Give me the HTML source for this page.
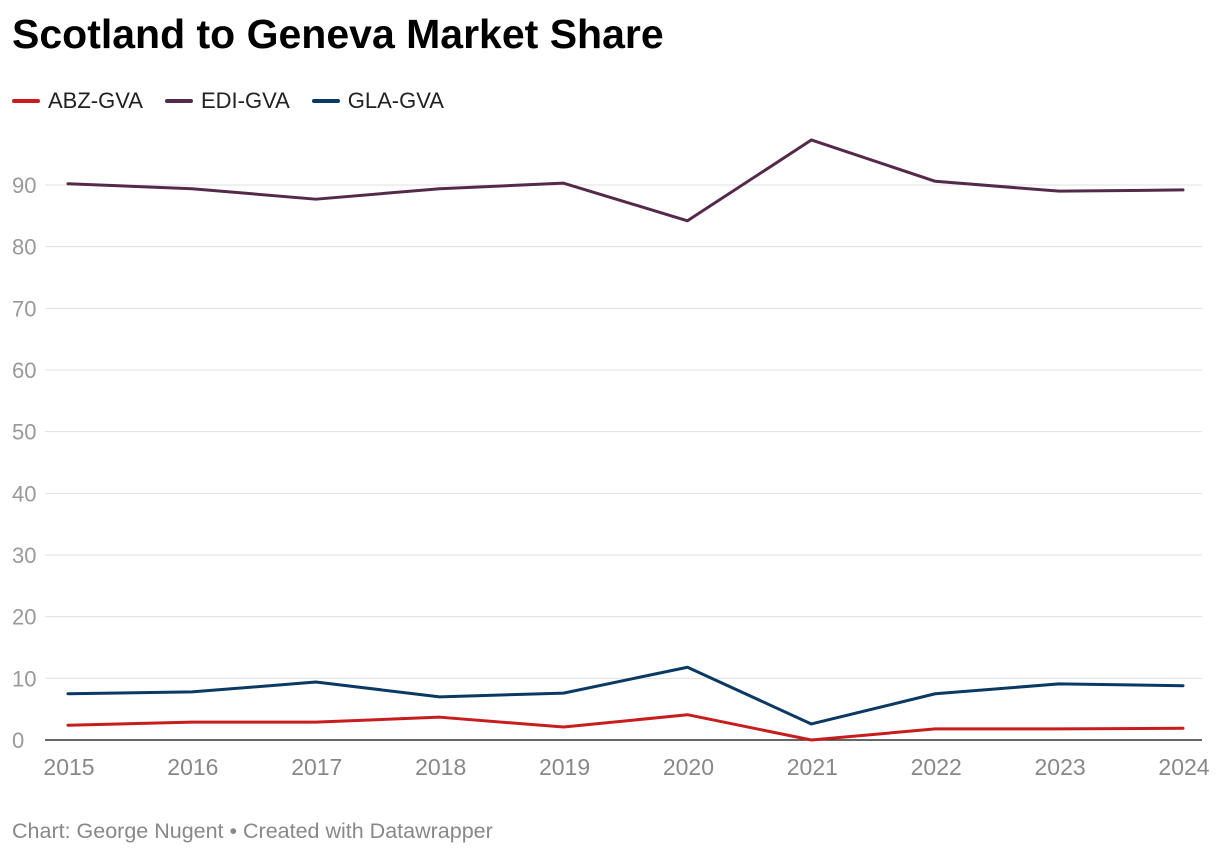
<!DOCTYPE html>
<html><head><meta charset="utf-8"><style>
body{margin:0;background:#fff;font-family:"Liberation Sans",sans-serif;}
#wrap{position:relative;width:1220px;height:856px;overflow:hidden}
h1{position:absolute;left:12px;top:11px;margin:0;font-size:41px;font-weight:bold;color:#000;letter-spacing:0}
.legend{position:absolute;top:88px;left:12px;font-size:22px;color:#222;display:flex;gap:22px}
.legend span{display:flex;align-items:center}
.legend i{display:inline-block;width:28px;height:4px;border-radius:2px;margin-right:8px}
.foot{position:absolute;left:12px;top:819px;font-size:21.5px;color:#888}
</style></head><body>
<div id="wrap">
<h1>Scotland to Geneva Market Share</h1>
<div class="legend">
<span><i style="background:#c71e1d"></i>ABZ-GVA</span>
<span><i style="background:#542a4a"></i>EDI-GVA</span>
<span><i style="background:#0a3a63"></i>GLA-GVA</span>
</div>
<svg id="svg" width="1220" height="856" style="position:absolute;left:0;top:0"></svg>
<div class="foot">Chart: George Nugent • Created with Datawrapper</div>
</div>
<script>
const years=[2015,2016,2017,2018,2019,2020,2021,2022,2023,2024];
const abz=[2.4,2.9,2.9,3.7,2.1,4.1,0,1.8,1.8,1.9];
const edi=[90.2,89.4,87.7,89.4,90.3,84.2,97.3,90.6,89.0,89.2];
const gla=[7.5,7.8,9.4,7.0,7.6,11.8,2.6,7.5,9.1,8.8];
const yTicks=[0,10,20,30,40,50,60,70,80,90];
const NS="http://www.w3.org/2000/svg";
const svg=document.getElementById('svg');
const x=i=>68+i*(1183-68)/(years.length-1);
const y=v=>740-v*(740-185)/90;
function mk(t,a){const e=document.createElementNS(NS,t);for(const k in a)e.setAttribute(k,a[k]);svg.appendChild(e);return e;}
yTicks.forEach(v=>{
 if(v>0){const l=mk('line',{x1:45,x2:1202,y1:y(v),y2:y(v),stroke:'#e0e0e0','stroke-width':1});
 
 }
 const t=mk('text',{x:12,y:y(v)+8,'font-size':22,fill:'#999','font-family':'Liberation Sans, sans-serif'});
 t.textContent=v;
 
 
});
const base=mk('line',{x1:45,x2:1202,y1:y(0),y2:y(0),stroke:'#333','stroke-width':1.5});


years.forEach((yr,i)=>{
 const t=mk('text',{x:x(i)+1,y:775,'font-size':23,fill:'#888','text-anchor':'middle','font-family':'Liberation Sans, sans-serif'});
 t.textContent=yr;
 
 
});
[[abz,'#c71e1d','abz'],[gla,'#0a3a63','gla'],[edi,'#542a4a','edi']].forEach(([d,c,n])=>{
 const p=mk('path',{d:d.map((v,i)=>(i?'L':'M')+x(i)+','+y(v)).join(''),fill:'none',stroke:c,'stroke-width':3,'stroke-linejoin':'round','stroke-linecap':'round'});
 
 
});
</script>
</body></html>
